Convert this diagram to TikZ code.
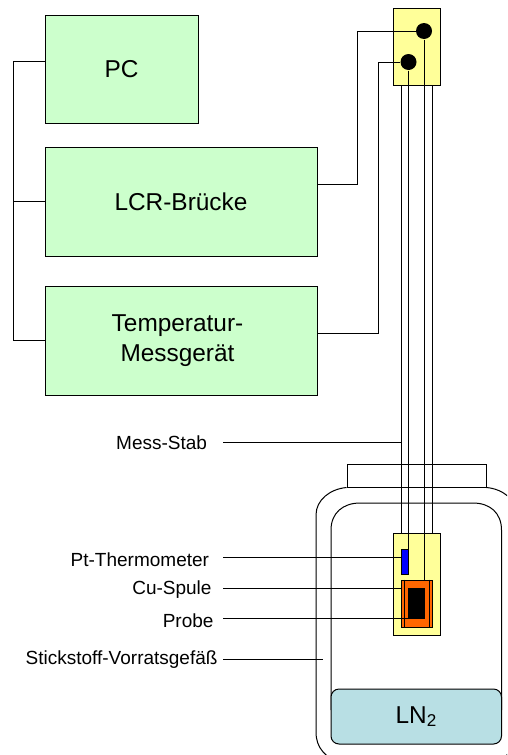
\documentclass[tikz,border=0pt]{standalone}
\usepackage{fontspec}
\setmainfont{Liberation Sans}
\usepackage{tikz}

\tikzset{
	box/.style={rectangle,draw,line width=1pt,inner sep=0pt},
	instrument/.style={box,font=\fontsize{24.4}{30}\selectfont,align=center},
	dot/.style={circle,fill=black,inner sep=0pt,minimum size=16pt},
	caption/.style={anchor=east,inner sep=0pt,font=\fontsize{19}{22}\selectfont}
}
\definecolor{instrgreen}{HTML}{CCFFCC}
\definecolor{holder}{HTML}{FFFF99}
\definecolor{coilorange}{HTML}{FF6600}
\definecolor{nitrogen}{HTML}{B8DFE4}

\begin{document}
\begin{tikzpicture}[x=1pt,y=-1pt,line width=1pt]
	\useasboundingbox (0,0) rectangle (507,755);
	\clip (0,0) rectangle (507,755);

	% Vessel starts here
	\node (lid) at (416.5,475.5) [box,minimum width=139pt,minimum height=23pt] {};
	\draw (lid.south west) .. controls (330,489) and (316,500) .. (316,515)
		-- (316,732) .. controls (316,748) and (325,758) .. (345,765);
	\draw (lid.south east) .. controls (503,489) and (517,500) .. (517,515)
		-- (517,732) .. controls (517,748) and (508,758) .. (488,765);
	\draw (331,710) -- (331,530) .. controls (331,513) and (343,503) .. (360,503)
		-- (473,503) .. controls (490,503) and (501.5,513) .. (501.5,530) -- (501.5,710);

	% Nodes start here
	\node (pc) at (121.5,69) [instrument,fill=instrgreen,minimum width=153pt,minimum height=108pt] {PC};
	\node (lcr) at (181,201.5) [instrument,fill=instrgreen,minimum width=272pt,minimum height=109pt] {LCR-Brücke};
	\node (temp) at (181,340.5) [instrument,fill=instrgreen,minimum width=272pt,minimum height=109pt] {Temperatur-\hspace*{7pt}\\Messgerät\hspace*{7pt}};
	\node (lnz) at (416.25,716.5) [box,fill=nitrogen,rounded corners=8pt,minimum width=170.5pt,minimum height=55pt,font=\fontsize{24.4}{30}\selectfont] {LN\textsubscript{2}};

	\node (plug) at (416.5,46.5) [box,fill=holder,minimum width=47pt,minimum height=77pt] {};
	\node (dota) at (424,31) [dot] {};
	\node (dotb) at (408.5,62) [dot] {};

	\node (sensor) at (416.5,584) [box,fill=holder,minimum width=47pt,minimum height=102pt] {};
	\node (blue) at (404.5,561.5) [box,fill=blue,minimum width=7pt,minimum height=25pt] {};
	\node (coil) at (416.75,603.5) [box,fill=coilorange,minimum width=30.5pt,minimum height=47pt] {};
	\node (core) at (416.5,603.5) [rectangle,fill=black,inner sep=0pt,minimum width=17pt,minimum height=31pt] {};

	\node (messlabel) at (207.5,443) [caption] {Mess-Stab};
	\node (ptlabel) at (209.5,560) [caption] {Pt-Thermometer};
	\node (culabel) at (212,590) [caption] {Cu-Spule};
	\node (probelabel) at (214,621) [caption] {Probe};
	\node (gefaesslabel) at (218,660) [caption] {Stickstoff-Vorratsgefäß};

	\coordinate (buspc) at (13,61);
	\coordinate (kneea) at (357,184);
	\coordinate (kneeb) at (378,333);
	\coordinate (messstart) at (223,442);
	\coordinate (ptstart) at (223,557.5);
	\coordinate (custart) at (223,588);
	\coordinate (probestart) at (223,618.5);
	\coordinate (gefaessstart) at (223,659);
	\coordinate (gefaessend) at (323,659);

	% Lines start here
	\draw[-] (pc.west |- buspc) -- (buspc) |- (lcr.west);
	\draw[-] (buspc) |- (temp.west);

	\draw[-] (dota) -| (kneea) -- (kneea -| lcr.east);
	\draw[-] (dotb) -| (kneeb) -- (kneeb -| temp.east);

	\draw[-] (plug.south -| coil.west) -- (sensor.north -| coil.west);
	\draw[-] (dotb) -- (dotb |- blue.north);
	\draw[-] (dota) -- (dota |- coil.north);
	\draw[-] (plug.south -| coil.east) -- (sensor.north -| coil.east);

	\draw[-] ([xshift=3.5pt]coil.north west) -- ([xshift=3.5pt]coil.south west);
	\draw[-] ([xshift=-3.5pt]coil.north east) -- ([xshift=-3.5pt]coil.south east);

	\draw[-] (messstart) -- (messstart -| coil.west);
	\draw[-] (ptstart) -- (ptstart -| blue.west);
	\draw[-] (custart) -- (custart -| coil.west);
	\draw[-] (probestart) -- (probestart -| core);
	\draw[-] (gefaessstart) -- (gefaessend);

\end{tikzpicture}
\end{document}
